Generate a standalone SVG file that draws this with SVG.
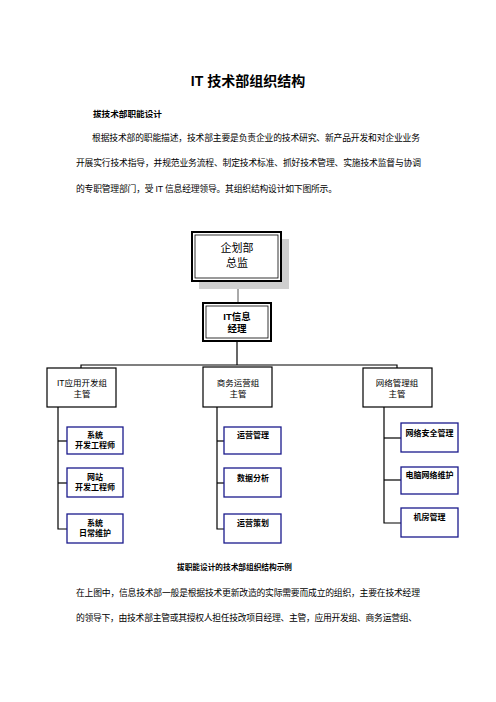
<svg xmlns="http://www.w3.org/2000/svg" width="496" height="702" viewBox="0 0 496 702">
<style>
.t{font-family:"Liberation Sans","Noto Sans CJK SC",sans-serif;fill:#000}
.title{font-size:14px;font-weight:bold}
.h{font-size:8.5px;font-weight:bold}
.p{font-size:8.8px}
.cap{font-size:7.6px;font-weight:bold}
.lbl{font-size:11px;text-anchor:middle}
.lbl2{font-size:9.5px;font-weight:bold;text-anchor:middle}
.sub{font-size:8.5px;text-anchor:middle}
.kid{font-size:8px;font-weight:bold;text-anchor:middle}
.box{fill:#fff;stroke:#000;stroke-width:1.2}
.kbox{fill:#fff;stroke:#1a1a8c;stroke-width:1.3}
.ln{stroke:#000;stroke-width:1.2;fill:none}
</style>
<rect width="496" height="702" fill="#fff"/>
<text class="t title" x="248" y="86" text-anchor="middle">IT 技术部组织结构</text>
<text class="t h" x="93" y="117" textLength="69" lengthAdjust="spacingAndGlyphs">拔技术部职能设计</text>
<text class="t p" x="92" y="141" textLength="328" lengthAdjust="spacing">根据技术部的职能描述，技术部主要是负责企业的技术研究、新产品开发和对企业业务</text>
<text class="t p" x="76" y="166" textLength="345" lengthAdjust="spacing">开展实行技术指导，并规范业务流程、制定技术标准、抓好技术管理、实施技术监督与协调</text>
<text class="t p" x="76" y="192" textLength="261" lengthAdjust="spacing">的专职管理部门，受 IT 信息经理领导。其组织结构设计如下图所示。</text>

<g id="connectors">
<line x1="238" y1="281" x2="238" y2="303" stroke="#555" stroke-width="1"/>
<line class="ln" x1="237" y1="341" x2="237" y2="365"/>
<polyline class="ln" points="81,368 81,365 397,365 397,368"/>
<polyline class="ln" points="58,407 58,529 67,529"/>
<line class="ln" x1="58" y1="441" x2="67" y2="441"/>
<line class="ln" x1="58" y1="483" x2="67" y2="483"/>
<polyline class="ln" points="217,407 217,529 224,529"/>
<line class="ln" x1="217" y1="441" x2="224" y2="441"/>
<line class="ln" x1="217" y1="483" x2="224" y2="483"/>
<polyline class="ln" points="384,407 384,523 401,523"/>
<line class="ln" x1="384" y1="438" x2="401" y2="438"/>
<line class="ln" x1="384" y1="480" x2="401" y2="480"/>
</g>

<g id="n-director">
<rect x="199" y="239" width="90" height="50" fill="#cfcfcf"/>
<rect x="192" y="232" width="89" height="49" fill="#fff" stroke="#000" stroke-width="2"/>
<rect x="195" y="235" width="83" height="43" fill="none" stroke="#000" stroke-width="0.8"/>
<text class="t lbl" x="237" y="252">企划部</text>
<text class="t lbl" x="237" y="267">总监</text>
</g>

<g id="n-it">
<rect x="203" y="303" width="68" height="38" fill="#fff" stroke="#000" stroke-width="2"/>
<rect x="206" y="306" width="62" height="32" fill="none" stroke="#000" stroke-width="0.8"/>
<text class="t lbl2" x="237" y="320">IT信息</text>
<text class="t lbl2" x="237" y="332">经理</text>
</g>

<g id="n-dev">
<rect class="box" x="47" y="368" width="69" height="39"/>
<text class="t sub" x="82" y="386">IT应用开发组</text>
<text class="t sub" x="82" y="397">主管</text>
</g>
<g id="n-biz">
<rect class="box" x="203" y="367" width="69" height="40"/>
<text class="t sub" x="238" y="386">商务运营组</text>
<text class="t sub" x="238" y="397">主管</text>
</g>
<g id="n-net">
<rect class="box" x="363" y="368" width="69" height="39"/>
<text class="t sub" x="397" y="386">网络管理组</text>
<text class="t sub" x="397" y="397">主管</text>
</g>

<g id="n-sysdev">
<rect class="kbox" x="67" y="427" width="56" height="27"/>
<text class="t kid" x="95" y="438">系统</text>
<text class="t kid" x="95" y="448">开发工程师</text>
</g>
<g id="n-webdev">
<rect class="kbox" x="67" y="468" width="56" height="29"/>
<text class="t kid" x="95" y="480">网站</text>
<text class="t kid" x="95" y="490">开发工程师</text>
</g>
<g id="n-sysmaint">
<rect class="kbox" x="67" y="514" width="56" height="29"/>
<text class="t kid" x="95" y="526">系统</text>
<text class="t kid" x="95" y="536">日常维护</text>
</g>

<g id="n-opmgmt">
<rect class="kbox" x="224" y="427" width="57" height="27"/>
<text class="t kid" x="253" y="438">运营管理</text>
</g>
<g id="n-data">
<rect class="kbox" x="224" y="468" width="57" height="29"/>
<text class="t kid" x="253" y="481">数据分析</text>
</g>
<g id="n-opplan">
<rect class="kbox" x="224" y="514" width="57" height="29"/>
<text class="t kid" x="253" y="526">运营策划</text>
</g>

<g id="n-netsec">
<rect class="kbox" x="401" y="423" width="57" height="29"/>
<text class="t kid" x="429.5" y="436">网络安全管理</text>
</g>
<g id="n-pcnet">
<rect class="kbox" x="401" y="467" width="57" height="27"/>
<text class="t kid" x="429.5" y="478">电脑网络维护</text>
</g>
<g id="n-room">
<rect class="kbox" x="401" y="508" width="57" height="29"/>
<text class="t kid" x="429.5" y="520">机房管理</text>
</g>

<text class="t cap" x="177" y="570" textLength="115" lengthAdjust="spacingAndGlyphs">拔职能设计的技术部组织结构示例</text>
<text class="t p" x="76" y="596" textLength="344" lengthAdjust="spacing">在上图中，信息技术部一般是根据技术更新改造的实际需要而成立的组织，主要在技术经理</text>
<text class="t p" x="76" y="621" textLength="341" lengthAdjust="spacing">的领导下，由技术部主管或其授权人担任技改项目经理、主管，应用开发组、商务运营组、</text>
</svg>
